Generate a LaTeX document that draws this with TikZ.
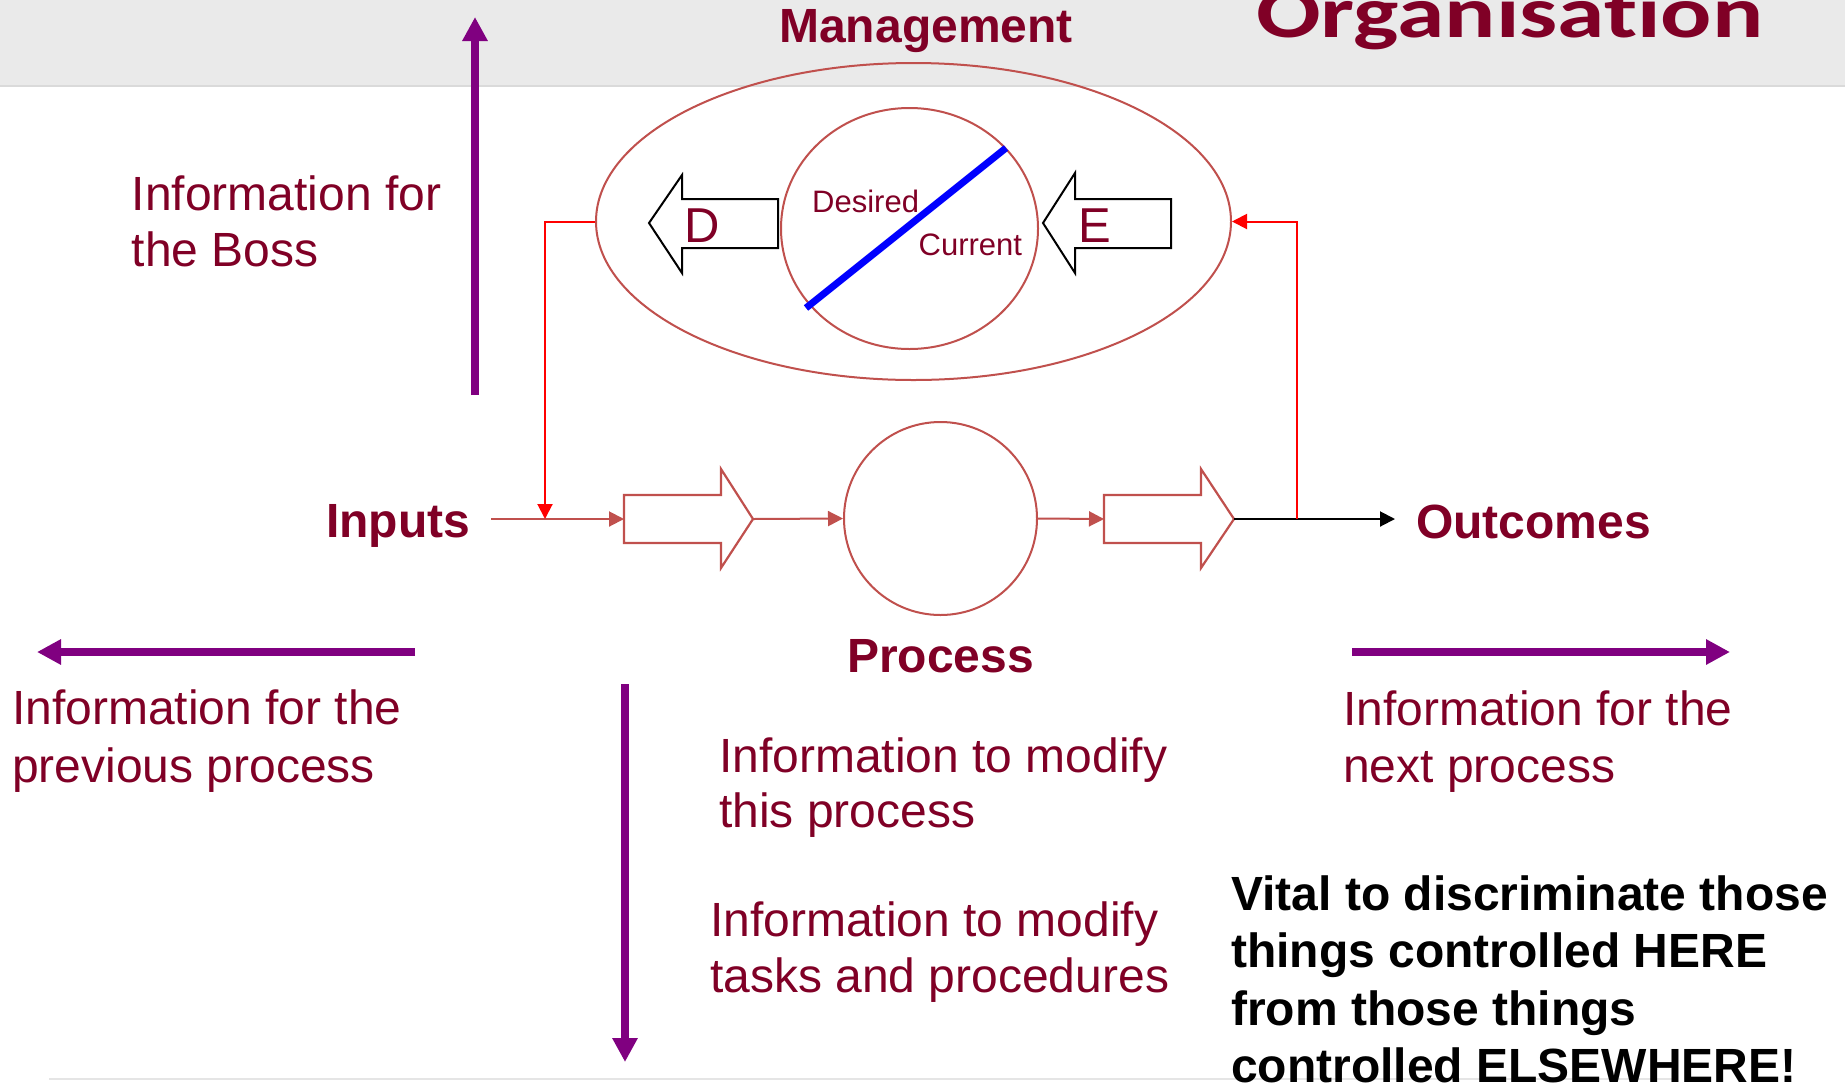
\documentclass[tikz,border=0pt]{standalone}
\usepackage{fontspec}
\usepackage{graphicx}
\setmainfont{Liberation Sans}
\newfontfamily\calib[Ligatures=NoCommon]{Carlito}
\usetikzlibrary{arrows.meta,shapes.geometric}
\definecolor{tred}{RGB}{128,0,38}
\definecolor{ppl}{RGB}{128,0,128}
\definecolor{bred}{RGB}{192,80,77}
\definecolor{hdr}{RGB}{234,234,234}
\definecolor{hdrline}{RGB}{218,218,218}
\newcommand\myfs[1]{\fontsize{#1pt}{#1pt}\selectfont}
\tikzset{
  txt/.style={anchor=base west, inner sep=0pt, text=tred, font=\myfs{48}},
  btxt/.style={anchor=base west, inner sep=0pt, text=tred, font=\myfs{48}\bfseries},
  flow/.style={draw=bred, line width=2pt, -{Triangle[length=15pt,width=15pt]}},
  fb/.style={draw=red, line width=2pt, -{Triangle[length=15pt,width=15pt]}},
  blk/.style={draw=black, line width=2pt, -{Triangle[length=15pt,width=15pt]}},
  parrow/.style={draw=ppl, line width=7.5pt, -{Triangle[length=24pt,width=24pt]}},
  blockarrow/.style={draw=bred, line width=2.2pt, fill=white, line join=miter},
  darrow/.style={draw=black, line width=2pt, fill=white, line join=miter},
}
\begin{document}
\begin{tikzpicture}[x=1pt,y=-1pt]
\useasboundingbox (0,0) rectangle (1845,1085);
\fill[white] (0,0) rectangle (1845,1085);
% header band
\fill[hdr] (0,0) rectangle (1845,86);
\draw[hdrline, line width=2pt] (0,86) -- (1845,86);
% footer line
\draw[hdrline!70, line width=1.5pt] (49,1079) -- (1673,1079);

% titles
\node[anchor=base west, inner sep=0pt, text=tred] (org) at (1256,37)
  {\scalebox{1.31}[1]{\calib\myfs{73}\bfseries Organisation}};
\node[btxt, anchor=base] (mgmtlbl) at (926,42) {Management};

% management ellipses
\node[ellipse, draw=bred, line width=2pt, minimum width=635pt, minimum height=317pt, inner sep=0pt] (mgmt) at (913.5,221.5) {};
\node[ellipse, draw=bred, line width=2pt, minimum width=257pt, minimum height=241pt, inner sep=0pt] (cmp) at (909.5,228.5) {};
\coordinate (blA) at (806,308);
\coordinate (blB) at (1006,148);
\draw[blue, line width=7pt] (blA) -- (blB);
\node[anchor=base west, inner sep=0pt, text=tred, font=\myfs{31}] (des) at (812,212) {Desired};
\node[anchor=base west, inner sep=0pt, text=tred, font=\myfs{31}] (cur) at (918.5,255) {Current};

% D and E arrows
\draw[darrow] (649,223) -- (682,175) -- (682,199) -- (778,199) -- (778,248) -- (682,248) -- (682,273) -- cycle;
\node[anchor=base west, inner sep=0pt, text=tred, font=\myfs{49}] (dlbl) at (684,242) {D};
\draw[darrow] (1043,223) -- (1075,173) -- (1075,199) -- (1171,199) -- (1171,248) -- (1075,248) -- (1075,273) -- cycle;
\node[anchor=base west, inner sep=0pt, text=tred, font=\myfs{49}] (elbl) at (1078,242) {E};

% process chain
\node[circle, draw=bred, line width=2pt, minimum size=193pt, inner sep=0pt] (proc) at (940.5,518.5) {};
\draw[blockarrow] (624,495) -- (721,495) -- (721,469) -- (753,519) -- (721,568) -- (721,543) -- (624,543) -- cycle;
\draw[blockarrow] (1104,495) -- (1201,495) -- (1201,469) -- (1234,519) -- (1201,568) -- (1201,543) -- (1104,543) -- cycle;
\coordinate (inL) at (491,519);
\coordinate (b1w) at (624,519);
\coordinate (b1tip) at (753,519);
\coordinate (b2w) at (1104,519);
\coordinate (b2tip) at (1234,519);
\coordinate (outE) at (1395,519);
\coordinate (fbL) at (545,519);
\coordinate (fbR) at (1297,519);
\draw[flow] (inL) -- (b1w);
\draw[flow] (b1tip) -- (proc.west);
\draw[flow] (proc.east) -- (b2w);
\draw[blk] (b2tip) -- (outE);
\draw[fb] (mgmt.west) -| (fbL);
\draw[fb] (fbR) |- (mgmt.east);

\node[btxt] (inputs) at (326,537) {Inputs};
\node[btxt] (outcomes) at (1416,538) {Outcomes};
\node[btxt, anchor=base] (process) at (940.5,672) {Process};

% purple information arrows
\coordinate (bossS) at (475,395);
\coordinate (bossT) at (475,17);
\draw[parrow] (bossS) -- (bossT);
\coordinate (prevS) at (415,652);
\coordinate (prevT) at (37,652);
\draw[parrow] (prevS) -- (prevT);
\coordinate (nextS) at (1352,652);
\coordinate (nextT) at (1730,652);
\draw[parrow] (nextS) -- (nextT);
\coordinate (modS) at (625,684);
\coordinate (modT) at (625,1062);
\draw[parrow] (modS) -- (modT);

% information texts
\node[txt] (boss1) at (131.5,210) {Information for};
\node[txt] (boss2) at (131.5,266) {the Boss};
\node[txt] (prev1) at (12,724) {Information for the};
\node[txt] (prev2) at (12,782) {previous process};
\node[txt] (next1) at (1343,725) {Information for the};
\node[txt] (next2) at (1343,782) {next process};
\node[txt] (modp1) at (719,772) {Information to modify};
\node[txt] (modp2) at (719,827) {this process};
\node[txt] (modt1) at (710,936) {Information to modify};
\node[txt] (modt2) at (710,992) {tasks and procedures};

% vital note
\node[anchor=base west, inner sep=0pt, font=\myfs{48}\bfseries] (v1) at (1231,910) {Vital to discriminate those};
\node[anchor=base west, inner sep=0pt, font=\myfs{48}\bfseries] (v2) at (1231,967) {things controlled HERE};
\node[anchor=base west, inner sep=0pt, font=\myfs{48}\bfseries] (v3) at (1231,1025) {from those things};
\node[anchor=base west, inner sep=0pt, font=\myfs{48}\bfseries] (v4) at (1231,1082) {controlled ELSEWHERE!};
\end{tikzpicture}
\end{document}
